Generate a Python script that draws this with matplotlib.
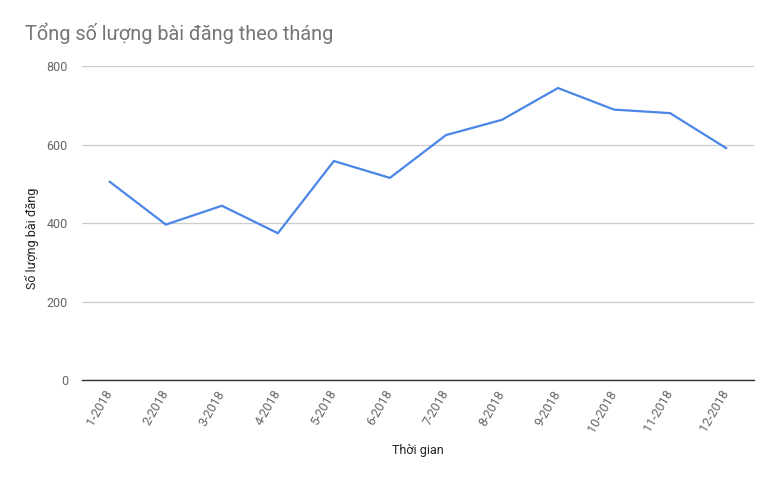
import matplotlib.pyplot as plt

months = ['1-2018', '2-2018', '3-2018', '4-2018', '5-2018', '6-2018',
          '7-2018', '8-2018', '9-2018', '10-2018', '11-2018', '12-2018']
posts = [505, 396, 444, 374, 558, 515, 624, 663, 744, 689, 680, 591]
yticks = [0, 200, 400, 600, 800]

plt.rcParams['font.family'] = ['Roboto', 'DejaVu Sans']

fig = plt.figure(figsize=(7.79, 4.82), dpi=100)
ax = fig.add_axes([0.105, 0.2116, 0.863, 0.6514])

x = list(range(len(months)))
ax.plot(x, posts, color='#4a86e8', lw=1.6, solid_joinstyle='miter', zorder=3)

ax.set_xlim(-0.5, len(months) - 0.5)
ax.set_ylim(0, 800)
ax.set_yticks(yticks)
ax.set_yticklabels([str(t) for t in yticks])
ax.set_xticks(x)
ax.set_xticklabels(months, rotation=60, ha='right', va='center',
                   rotation_mode='anchor')

for s in ['top', 'right', 'left']:
    ax.spines[s].set_visible(False)
ax.spines['bottom'].set_color('#333333')
ax.spines['bottom'].set_linewidth(1.0)
ax.yaxis.grid(True, color='#cccccc', lw=0.9)
ax.set_axisbelow(True)
ax.tick_params(axis='both', length=0, colors='#666666', labelsize=9)
ax.tick_params(axis='y', pad=10)
ax.tick_params(axis='x', pad=8)

ax.set_xlabel('Thời gian', fontsize=9, color='#222222', labelpad=7)
ax.set_ylabel('Số lượng bài đăng', fontsize=9, color='#222222')
ax.yaxis.set_label_coords(-0.063, 0.45)

fig.text(25 / 779, 1 - 33 / 482, 'Tổng số lượng bài đăng theo tháng',
         fontsize=14.3, color='#757575', ha='left', va='center')

fig.savefig('out.png', dpi=100)
